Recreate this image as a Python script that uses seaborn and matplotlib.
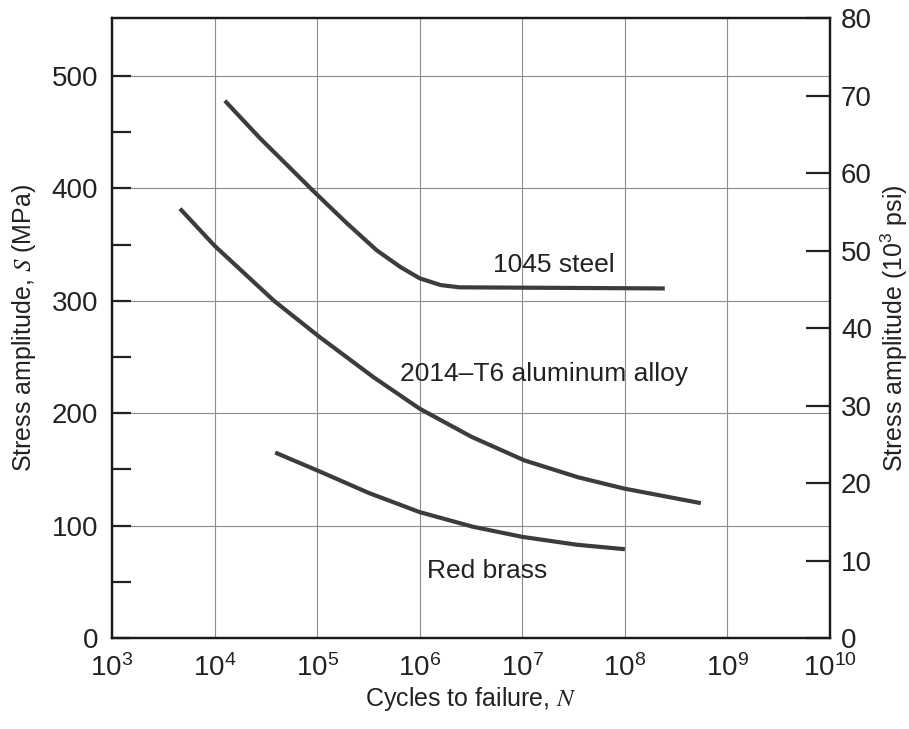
import seaborn as sns
import pandas as pd
import matplotlib.pyplot as plt
import numpy as np

# values (cycles, stress in MPa)
steel_N = [1.26e4, 2.75e4, 9.1e4, 1.95e5, 3.8e5, 6.5e5, 1.0e6, 1.6e6, 2.45e6, 2.45e8]
steel_S = [478, 445, 398, 369, 345, 330, 320, 314, 312, 311]

alu_N = [4.6e3, 1.0e4, 3.8e4, 1.05e5, 3.55e5, 1.0e6, 3.2e6, 1.05e7, 3.5e7, 9.8e7, 5.5e8]
alu_S = [382, 349, 300, 268, 232, 204, 179, 158, 143, 133, 120]

brass_N = [3.9e4, 1.07e5, 3.2e5, 1.0e6, 3.3e6, 1.0e7, 3.4e7, 1.0e8]
brass_S = [165, 148, 129, 112, 99, 90, 83, 79]

labels = ["1045 steel", "2014\u2013T6 aluminum alloy", "Red brass"]
x_ticks = [1e3, 1e4, 1e5, 1e6, 1e7, 1e8, 1e9, 1e10]
mpa_ticks = [0, 100, 200, 300, 400, 500]
ksi_ticks = [0, 10, 20, 30, 40, 50, 60, 70, 80]

KSI = 6.895

data = pd.concat([
    pd.DataFrame({"N": steel_N, "S": steel_S, "alloy": labels[0]}),
    pd.DataFrame({"N": alu_N, "S": alu_S, "alloy": labels[1]}),
    pd.DataFrame({"N": brass_N, "S": brass_S, "alloy": labels[2]}),
])

sns.set_theme(style="white")
plt.rcParams['font.family'] = ['Liberation Sans', 'DejaVu Sans']
plt.rcParams['mathtext.fontset'] = 'stix'

fig = plt.figure(figsize=(9.09, 7.29), dpi=100)
ax = fig.add_axes([0.1232, 0.1248, 0.7899, 0.8505])

for name in labels:
    sns.lineplot(x="N", y="S", data=data[data.alloy == name], ax=ax,
                 color="#3c3c3c", linewidth=3.0, solid_capstyle="butt",
                 solid_joinstyle="round", sort=False, legend=False)

ax.set_xscale("log")
ax.set_xlim(1e3, 1e10)
ax.set_ylim(0, 80 * KSI)
ax.set_xticks(x_ticks)
ax.set_xticklabels([r"$\mathregular{10^{%d}}$" % int(np.log10(t)) for t in x_ticks])
ax.xaxis.set_minor_locator(plt.NullLocator())
ax.set_yticks(mpa_ticks)
ax.set_yticks([50, 150, 250, 350, 450], minor=True)
ax.grid(True, which="major", color="#8c8c8c", linewidth=0.8)
ax.tick_params(axis="y", which="both", direction="in", length=14, width=1.6,
               labelsize=20, colors="#222222", pad=10)
ax.tick_params(axis="x", which="both", length=0, labelsize=20,
               colors="#222222", pad=12)
for sp in ax.spines.values():
    sp.set_linewidth(1.6)
    sp.set_color("#1a1a1a")

ax.set_xlabel("Cycles to failure, $N$", fontsize=18, color="#222222", labelpad=2)
ax.set_ylabel("Stress amplitude, $S$ (MPa)", fontsize=18, color="#222222", labelpad=10)

ax2 = ax.twinx()
ax2.set_ylim(0, 80)
ax2.set_yticks(ksi_ticks)
ax2.tick_params(axis="y", direction="in", length=17, width=1.6,
                labelsize=20, colors="#222222", pad=8)
ax2.set_ylabel(r"Stress amplitude ($\mathregular{10^3}$ psi)", fontsize=18,
               color="#222222", labelpad=5)
for sp in ax2.spines.values():
    sp.set_linewidth(1.6)
    sp.set_color("#1a1a1a")

ax.text(2.04e7, 332, labels[0], fontsize=19, ha="center", va="center", color="#222222")
ax.text(1.62e7, 235, labels[1], fontsize=19, ha="center", va="center", color="#222222")
ax.text(4.5e6, 60, labels[2], fontsize=19, ha="center", va="center", color="#222222")

fig.savefig("out.png", dpi=100)
